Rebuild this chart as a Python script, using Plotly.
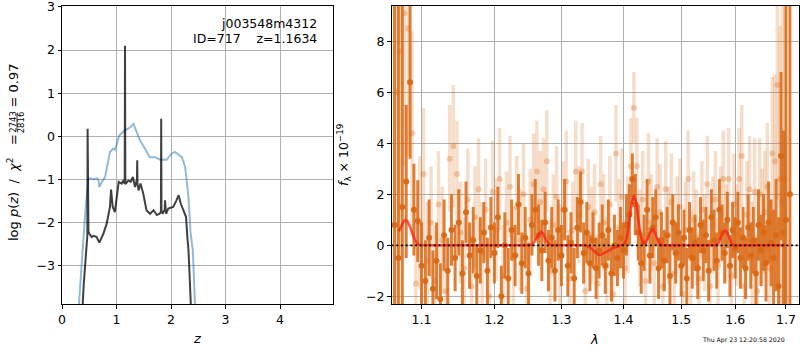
import plotly.graph_objects as go

# ---------------- left panel: redshift PDF ----------------
blue_z = [0.25, 0.306, 0.355, 0.40, 0.435, 0.465, 0.483, 0.52, 0.58, 0.64, 0.666, 0.685, 0.72, 0.79, 0.84,
          0.88, 0.94, 0.97, 1.00, 1.05, 1.10, 1.156, 1.25, 1.31, 1.358, 1.43, 1.52, 1.61, 1.71, 1.80,
          1.92, 2.01, 2.07, 2.13, 2.20, 2.26, 2.32, 2.36, 2.40, 2.44, 2.48]
blue_y = [-5.0, -3.89, -3.03, -2.25, -1.64, -1.17, -0.98, -0.97, -0.99, -0.97, -1.0, -1.17, -1.08, -0.94, -0.6,
          -0.36, -0.28, -0.31, -0.2, 0.02, 0.08, 0.14, 0.21, 0.29, 0.14, -0.09, -0.28, -0.48, -0.48, -0.54,
          -0.54, -0.40, -0.36, -0.42, -0.48, -0.71, -1.40, -2.25, -2.63, -3.9, -5.0]

black_z = [0.33, 0.373, 0.40, 0.435, 0.453, 0.465, 0.470, 0.475, 0.485, 0.50,
           0.52, 0.545, 0.58, 0.636, 0.685, 0.76, 0.82, 0.88, 0.90, 0.915,
           0.93, 0.97, 1.015, 1.04, 1.095, 1.125, 1.15, 1.156, 1.162, 1.174,
           1.217, 1.26, 1.30, 1.34, 1.375, 1.38, 1.385, 1.405, 1.44, 1.49,
           1.55, 1.615, 1.68, 1.74, 1.79, 1.815, 1.82, 1.825, 1.845, 1.885,
           1.89, 1.895, 1.91, 1.95, 2.04, 2.10, 2.14, 2.18, 2.23, 2.275,
           2.30, 2.32, 2.34, 2.37, 2.40]
black_y = [-5.0, -3.89, -3.41, -2.80, -2.33, -2.3, 0.18, -2.0, -2.2, -2.25,
           -2.28, -2.33, -2.3, -2.33, -2.46, -2.25, -2.02, -1.63, -1.23, -1.5,
           -1.63, -1.75, -1.32, -1.05, -1.09, -1.02, -1.1, 2.10, -1.1, -1.09,
           -1.02, -1.05, -0.94, -1.17, -1.0, -0.55, -1.1, -1.25, -1.09, -1.32,
           -1.71, -1.79, -1.71, -1.82, -1.79, -1.75, 0.41, -1.7, -1.79, -1.7,
           -1.48, -1.7, -1.79, -1.67, -1.63, -1.48, -1.36, -1.56, -1.71, -1.86,
           -2.33, -2.63, -3.18, -3.9, -5.0]

# ---------------- right panel: spectrum ----------------
dark_wave = [1.065, 1.070, 1.075, 1.080, 1.085, 1.090, 1.095, 1.100, 1.105, 1.110,
             1.115, 1.120, 1.125, 1.130, 1.135, 1.140, 1.145, 1.150, 1.155, 1.160,
             1.165, 1.170, 1.175, 1.180, 1.185, 1.190, 1.195, 1.200, 1.205, 1.210,
             1.215, 1.220, 1.225, 1.230, 1.235, 1.240, 1.245, 1.250, 1.255, 1.260,
             1.265, 1.270, 1.275, 1.280, 1.285, 1.290, 1.295, 1.300, 1.305, 1.310,
             1.315, 1.320, 1.325, 1.330, 1.335, 1.340, 1.345, 1.350, 1.355, 1.360,
             1.365, 1.370, 1.375, 1.380, 1.385, 1.390, 1.395, 1.400, 1.405, 1.410,
             1.415, 1.420, 1.425, 1.430, 1.435, 1.440, 1.445, 1.450, 1.455, 1.460,
             1.465, 1.470, 1.475, 1.480, 1.485, 1.490, 1.495, 1.500, 1.505, 1.510,
             1.515, 1.520, 1.525, 1.530, 1.535, 1.540, 1.545, 1.550, 1.555, 1.560,
             1.565, 1.570, 1.575, 1.580, 1.585, 1.590, 1.595, 1.600, 1.605, 1.610,
             1.615, 1.620, 1.625, 1.630, 1.635, 1.640, 1.645, 1.650, 1.655, 1.660,
             1.665, 1.670, 1.675, 1.680, 1.685, 1.690, 1.695, 1.700, 1.708]
dark_flux = [0.8, -0.5, 1.5, 2.5, 6.4, 1.4, 0.95, -0.8, -1.4, 0.3,
             -1.7, -0.6, -2.1, 0.4, -1.0, 0.6, -0.5, 0.9, -1.1, 1.3,
             -0.4, 0.2, -1.2, -0.2, 0.5, -1.0, 0.7, -0.3, 1.1, -2.0,
             0.0, -1.3, 0.6, -0.4, 1.6, -0.7, 0.3, -1.1, 0.8, 1.4,
             0.4, -0.2, 0.9, -0.6, 0.3, -1.0, 0.6, -0.4, 1.4, -0.8,
             0.1, -1.3, 0.7, 1.7, -0.3, 0.5, -0.7, 0.2, -0.9, -0.2,
             0.4, -0.8, 0.6, -1.1, 0.0, -0.5, 0.3, -0.2, 0.8, 1.2,
             2.6, 1.6, 0.5, -0.7, 0.1, 1.4, -0.4, 0.7, 1.1, -0.9,
             0.2, -0.6, 0.4, -1.2, 0.9, -0.3, 0.5, -0.8, 0.3, -1.3,
             0.6, -0.5, 0.1, -0.9, 0.8, -0.2, 0.4, -1.0, 1.1, 0.2,
             -0.6, 1.4, 0.5, -0.3, 1.0, -0.8, 0.6, -0.1, 0.9, -0.5,
             0.3, -0.9, 0.7, -0.4, 0.2, -1.1, 0.8, -0.2, 0.5, -0.7,
             0.9, 0.1, -0.5, 0.4, -1.6, 3.5, 0.5, 1.0, 2.0]
dark_err = [12, 12, 11, 3.0, 3.0, 1.8, 1.6, 1.7, 1.6, 1.5,
            1.5, 1.5, 1.4, 1.4, 1.3, 1.4, 1.3, 1.3, 1.3, 1.2,
            1.3, 1.3, 1.2, 1.3, 1.2, 1.3, 1.2, 1.2, 1.2, 1.2,
            1.3, 1.2, 1.2, 1.2, 1.2, 1.2, 1.2, 1.2, 1.2, 1.2,
            1.2, 1.2, 1.2, 1.2, 1.2, 1.2, 1.2, 1.2, 1.2, 1.2,
            1.2, 1.2, 1.2, 1.2, 1.2, 1.2, 1.1, 1.1, 1.2, 1.1,
            1.2, 1.1, 1.2, 1.1, 1.2, 1.1, 1.2, 1.1, 1.2, 1.2,
            1.0, 1.2, 1.1, 1.2, 1.1, 1.2, 1.1, 1.2, 1.1, 1.2,
            1.1, 1.2, 1.1, 1.2, 1.1, 1.2, 1.1, 1.2, 1.1, 1.2,
            1.1, 1.2, 1.1, 1.2, 1.1, 1.2, 1.1, 1.2, 1.1, 1.2,
            1.1, 1.2, 1.1, 1.2, 1.1, 1.2, 1.1, 1.2, 1.2, 1.2,
            1.2, 1.2, 1.3, 1.3, 1.3, 1.4, 1.4, 1.4, 1.5, 1.5,
            1.6, 1.7, 1.9, 2.2, 2.7, 3.3, 4.0, 12, 15]

light_wave = [1.0675, 1.0725, 1.0775, 1.0825, 1.0875, 1.0925, 1.0975, 1.1025, 1.1075, 1.1125,
              1.1175, 1.1225, 1.1275, 1.1325, 1.1375, 1.1425, 1.1475, 1.1525, 1.1575, 1.1625,
              1.1675, 1.1725, 1.1775, 1.1825, 1.1875, 1.1925, 1.1975, 1.2025, 1.2075, 1.2125,
              1.2175, 1.2225, 1.2275, 1.2325, 1.2375, 1.2425, 1.2475, 1.2525, 1.2575, 1.2625,
              1.2675, 1.2725, 1.2775, 1.2825, 1.2875, 1.2925, 1.2975, 1.3025, 1.3075, 1.3125,
              1.3175, 1.3225, 1.3275, 1.3325, 1.3375, 1.3425, 1.3475, 1.3525, 1.3575, 1.3625,
              1.3675, 1.3725, 1.3775, 1.3825, 1.3875, 1.3925, 1.3975, 1.4025, 1.4075, 1.4125,
              1.4175, 1.4225, 1.4275, 1.4325, 1.4375, 1.4425, 1.4475, 1.4525, 1.4575, 1.4625,
              1.4675, 1.4725, 1.4775, 1.4825, 1.4875, 1.4925, 1.4975, 1.5025, 1.5075, 1.5125,
              1.5175, 1.5225, 1.5275, 1.5325, 1.5375, 1.5425, 1.5475, 1.5525, 1.5575, 1.5625,
              1.5675, 1.5725, 1.5775, 1.5825, 1.5875, 1.5925, 1.5975, 1.6025, 1.6075, 1.6125,
              1.6175, 1.6225, 1.6275, 1.6325, 1.6375, 1.6425, 1.6475, 1.6525, 1.6575, 1.6625,
              1.6675, 1.6725, 1.6775, 1.6825, 1.6875, 1.6925, 1.6975]
light_flux = [6.0, 7.6, 9.1, 8.5, 4.4, -1.5, 0.9, 2.8, -0.6, 0.9,
              -1.4, 1.6, 0.2, -1.8, 3.4, 3.9, 2.8, 0.5, -0.9, 1.8,
              -1.6, 1.1, 2.2, -0.3, 1.4, -2.0, 2.1, 0.6, 2.6, -1.2,
              0.9, 2.3, -0.5, 1.5, 0.2, 2.0, -1.7, 1.0, 2.4, 2.9,
              1.7, 2.2, 3.3, -1.0, 0.8, 1.9, -0.4, 1.4, 2.5, -1.3,
              0.6, 2.9, 1.2, 2.9, -1.8, 1.5, 0.4, 1.3, -1.5, 2.4,
              0.9, -0.8, 1.6, -1.9, 3.6, 0.7, 1.9, -0.9, 0.8, 3.1,
              5.4, 3.1, 0.3, 1.8, -1.4, 2.5, 0.9, -0.7, 2.3, 1.3,
              -1.6, 2.2, 0.4, 1.7, -1.1, 0.8, 1.5, -1.9, 0.6, 2.6,
              -0.5, 1.0, 0.3, -1.3, 1.4, 0.1, 2.4, -1.6, 0.8, 1.8,
              -0.8, 1.2, 2.6, 0.5, 2.6, -1.2, 1.6, 0.4, 2.6, 3.5,
              -1.6, 1.2, 2.2, -0.4, 2.1, -1.8, 2.0, 0.7, 1.3, 2.3,
              -0.9, 3.6, 3.3, 6.3, 2.6, 1.7, 2.6]
light_err = [12, 8, 6, 5, 4, 3, 2.6, 2.6, 2.3, 2.2,
             2.2, 2.1, 2.1, 2.1, 2.1, 2.4, 2.1, 2.0, 2.0, 2.0,
             2.0, 2.0, 2.0, 2.0, 2.0, 2.0, 2.0, 2.0, 2.0, 2.0,
             2.0, 2.0, 2.0, 2.0, 2.0, 2.0, 2.0, 2.0, 2.0, 2.0,
             2.0, 2.0, 2.0, 2.0, 2.0, 2.0, 2.0, 1.9, 2.0, 1.9,
             1.9, 2.0, 1.9, 1.9, 1.9, 1.9, 1.9, 1.9, 1.9, 1.9,
             1.9, 1.9, 1.9, 1.9, 1.9, 1.9, 1.9, 1.9, 1.9, 1.9,
             1.4, 1.9, 1.9, 1.9, 1.9, 1.9, 1.9, 1.9, 1.9, 1.9,
             1.9, 1.9, 1.9, 1.9, 1.9, 1.9, 1.9, 1.9, 1.9, 1.9,
             1.9, 1.9, 1.9, 1.9, 1.9, 1.9, 1.9, 1.9, 1.9, 1.9,
             1.9, 1.9, 1.9, 1.9, 2.0, 2.0, 2.0, 2.0, 2.0, 2.0,
             2.0, 2.1, 2.1, 2.1, 2.1, 2.2, 2.2, 2.3, 2.4, 2.5,
             2.7, 3.0, 3.4, 4.5, 6, 8, 12]

model_wave = [1.0705, 1.074, 1.077, 1.079, 1.082, 1.086, 1.090, 1.094, 1.098,
              1.250, 1.255, 1.260, 1.265, 1.2686, 1.272, 1.277, 1.282, 1.286,
              1.338, 1.345, 1.352, 1.358, 1.362, 1.368, 1.375, 1.382, 1.390, 1.398,
              1.402, 1.406, 1.410, 1.414, 1.4176, 1.421, 1.425, 1.429, 1.433, 1.437,
              1.441, 1.445, 1.4497, 1.454, 1.458, 1.462, 1.466,
              1.562, 1.568, 1.573, 1.577, 1.5806, 1.585, 1.589, 1.593, 1.597, 1.698]
model_flux = [0.55, 0.80, 0.95, 0.99, 0.93, 0.65, 0.30, 0.08, 0.0,
              0.0, 0.02, 0.18, 0.42, 0.53, 0.45, 0.18, 0.03, 0.0,
              0.0, -0.08, -0.25, -0.36, -0.38, -0.30, -0.20, -0.12, -0.05, 0.0,
              0.05, 0.35, 0.95, 1.65, 1.97, 1.75, 1.05, 0.40, 0.10, 0.08,
              0.25, 0.50, 0.63, 0.50, 0.25, 0.06, 0.0,
              0.0, 0.08, 0.32, 0.52, 0.58, 0.50, 0.28, 0.08, 0.0, 0.0]

z_ticks = [0, 1, 2, 3, 4]
pz_ticks = [-3, -2, -1, 0, 1, 2, 3]
lam_ticks = [1.1, 1.2, 1.3, 1.4, 1.5, 1.6, 1.7]
lam_ticktext = ["1.1", "1.2", "1.3", "1.4", "1.5", "1.6", "1.7"]
flux_ticks = [-2, 0, 2, 4, 6, 8]

W, H = 800, 350
FONT = "DejaVu Sans"


def px(x):
    return x / W


def py(y):
    return 1 - y / H


fig = go.Figure()

fig.add_trace(go.Scatter(x=blue_z, y=blue_y, mode="lines",
                         line=dict(color="rgba(31,119,180,0.5)", width=2),
                         xaxis="x", yaxis="y", hoverinfo="skip"))
fig.add_trace(go.Scatter(x=black_z, y=black_y, mode="lines",
                         line=dict(color="rgba(0,0,0,0.75)", width=2),
                         xaxis="x", yaxis="y", hoverinfo="skip"))

ORANGE = "217,104,20"
fig.add_trace(go.Scatter(x=light_wave, y=light_flux, mode="markers",
                         marker=dict(size=6, color=f"rgba({ORANGE},0.3)"),
                         error_y=dict(type="data", array=light_err, width=0, thickness=3.5,
                                      color=f"rgba({ORANGE},0.22)"),
                         xaxis="x2", yaxis="y2", hoverinfo="skip"))
fig.add_trace(go.Scatter(x=dark_wave, y=dark_flux, mode="markers",
                         marker=dict(size=6, color=f"rgba({ORANGE},0.95)"),
                         error_y=dict(type="data", array=dark_err, width=0, thickness=3,
                                      color=f"rgba({ORANGE},0.85)"),
                         xaxis="x2", yaxis="y2", hoverinfo="skip"))
fig.add_trace(go.Scatter(x=model_wave, y=model_flux, mode="lines",
                         line=dict(color="rgba(255,25,20,0.72)", width=2.5),
                         xaxis="x2", yaxis="y2", hoverinfo="skip"))

fig.add_shape(type="line", xref="x2 domain", yref="y2", x0=0, x1=1, y0=0, y1=0,
              line=dict(color="black", width=1.8, dash="2px,2.7px"))

axis_common = dict(showgrid=True, gridcolor="#b0b0b0", gridwidth=1, zeroline=False,
                   showline=True, linecolor="black", linewidth=1, mirror=True,
                   ticks="outside", ticklen=3.5, tickwidth=1, tickcolor="black",
                   ticklabeloverflow="allow", automargin=False,
                   tickfont=dict(family=FONT, size=12.5, color="black"))

dom_y = [py(304), py(6)]
fig.update_layout(
    width=W, height=H, autosize=False,
    margin=dict(l=0, r=0, t=0, b=0, pad=0, autoexpand=False),
    paper_bgcolor="white", plot_bgcolor="white", showlegend=False,
    font=dict(family=FONT, size=12.5, color="black"),
    xaxis=dict(domain=[px(62), px(333)], range=[0, 4.972], tickvals=z_ticks,
               anchor="y", **axis_common),
    yaxis=dict(domain=dom_y, range=[-3.88, 3.02], tickvals=pz_ticks,
               anchor="x", **axis_common),
    xaxis2=dict(domain=[px(391.5), px(799)], type="log", range=[0.0258, 0.2372],
                tickvals=lam_ticks, ticktext=lam_ticktext, anchor="y2", **axis_common),
    yaxis2=dict(domain=dom_y, range=[-2.30, 9.386], tickvals=flux_ticks,
                anchor="x2", **axis_common),
)

NB = "\u00a0"
ann = []
ann.append(dict(text="j003548m4312", x=px(318.5), y=py(23), xanchor="right", yanchor="middle",
                font=dict(size=12.5)))
ann.append(dict(text="ID=717" + NB * 4 + "z=1.1634", x=px(318.5), y=py(38.5),
                xanchor="right", yanchor="middle", font=dict(size=12.5)))
ann.append(dict(text="<i>z</i>", x=px(197.5), y=py(338), xanchor="center", yanchor="middle",
                font=dict(size=13)))
ann.append(dict(text="<i>λ</i>", x=px(594.5), y=py(339.5), xanchor="center", yanchor="middle",
                font=dict(size=13)))
ann.append(dict(text="<i>f</i><sub>λ</sub> × 10<sup>−19</sup>", x=px(344), y=py(155),
                textangle=-90, xanchor="center", yanchor="middle", font=dict(size=12.5)))
ann.append(dict(text="log" + NB + "<i>p</i>(<i>z</i>)" + NB * 2 + "/" + NB * 2 + "<i>χ</i><sup>2</sup>"
                + NB * 3 + "=", x=px(12.5), y=py(243),
                textangle=-90, xanchor="center", yanchor="bottom", font=dict(size=13)))
ann.append(dict(text="2743", x=px(12.8), y=py(122), textangle=-90, xanchor="center",
                yanchor="middle", font=dict(size=8.5)))
ann.append(dict(text="2816", x=px(21.3), y=py(122), textangle=-90, xanchor="center",
                yanchor="middle", font=dict(size=8.5)))
ann.append(dict(text="=" + NB + "0.97", x=px(12.5), y=py(110), textangle=-90, xanchor="center",
                yanchor="bottom", font=dict(size=13)))
ann.append(dict(text="Thu Apr 23 12:20:58 2020", x=px(787), y=py(339.5), xanchor="right",
                yanchor="middle", font=dict(size=6.2)))
for a in ann:
    a.update(xref="paper", yref="paper", showarrow=False)
fig.update_layout(annotations=ann)

fig.add_shape(type="line", xref="paper", yref="paper", x0=px(17.0), x1=px(17.0),
              y0=py(113.5), y1=py(130.5), line=dict(color="black", width=0.8))

fig.write_html("out.html", config={"displayModeBar": False},
               post_script="document.body.style.margin='0';document.body.style.padding='0';")
